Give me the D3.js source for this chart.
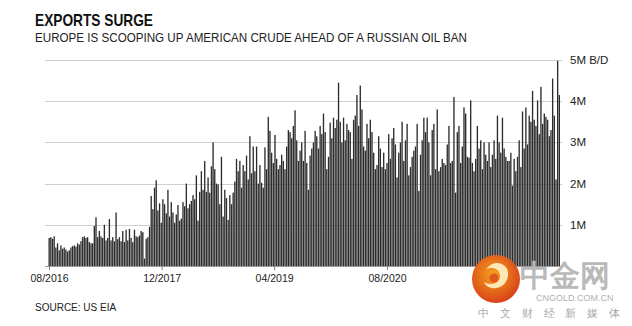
<!DOCTYPE html>
<html>
<head>
<meta charset="utf-8">
<script src="https://cdn.jsdelivr.net/npm/d3@7"></script>
<style>
  body { margin: 0; background: #fff; }
  svg { display: block; }
  text { font-family: "Liberation Sans", Arial, Helvetica, sans-serif; }
</style>
</head>
<body>
<svg id="chart" width="632" height="326"></svg>
<script>
// Weekly US crude oil exports, million barrels per day (EIA), starting week of 5 Aug 2016
const firstWeek = "2016-08-05";
const exportsMbd = [
  0.68, 0.70, 0.66, 0.72, 0.45, 0.55, 0.38, 0.50, 0.42, 0.45, 0.40, 0.35, 0.38, 0.45, 0.48, 0.50, 0.47, 0.55, 0.52, 0.60, 0.70, 0.72, 0.68,
  0.70, 0.58, 0.55, 0.55, 0.97, 1.18, 0.70, 0.85, 0.72, 0.68, 1.00, 0.62, 0.68, 1.14, 0.62, 0.70, 0.60, 1.30, 0.65, 0.70, 0.60, 0.85, 0.58, 0.88, 0.62, 0.90,
  0.68, 0.58, 0.88, 0.72, 0.70, 0.74, 0.85, 0.82, 0.18, 0.66, 0.70, 0.95, 1.70, 1.38, 1.90, 2.08, 1.35, 1.52, 1.05, 1.62, 1.50, 1.28, 1.85, 1.20, 1.55, 1.30,
  1.05, 1.25, 1.48, 1.10, 1.15, 1.55, 1.45, 2.00, 1.40, 1.50, 1.58, 1.72, 1.62, 2.20, 1.10, 1.80, 2.30, 1.85, 2.55, 1.80, 2.15, 1.78, 2.42, 3.00, 2.35, 2.00,
  1.98, 1.50, 2.65, 1.20, 1.85, 1.65, 1.12, 1.72, 1.50, 1.78, 2.05, 2.60, 2.30, 2.55, 1.90, 2.45, 2.30, 2.68, 2.10, 3.15, 2.25, 2.90, 2.30, 2.90, 2.00, 2.45,
  2.02, 1.90, 2.88, 2.35, 3.62, 3.28, 2.75, 2.50, 3.18, 2.60, 2.35, 2.45, 2.70, 2.55, 2.35, 2.90, 3.30, 3.25, 3.10, 3.40, 3.78, 3.05, 2.55, 2.80, 3.00,
  2.55, 3.28, 2.50, 1.85, 2.68, 2.85, 3.00, 3.28, 3.15, 2.85, 3.40, 3.20, 3.70, 3.25, 2.35, 2.65, 3.48, 3.10, 3.60, 3.35, 3.55, 4.45, 3.50, 3.00, 3.60,
  3.05, 3.45, 3.30, 3.25, 2.60, 3.55, 3.65, 4.15, 3.40, 4.38, 3.80, 2.90, 2.80, 3.45, 3.10, 3.55, 3.25, 2.75, 2.35, 2.45, 3.15, 2.85, 2.40, 2.75,
  2.35, 2.50, 3.20, 2.60, 3.10, 3.35, 2.95, 2.15, 2.75, 3.00, 3.50, 2.55, 3.05, 3.45, 2.20, 2.40, 2.65, 2.80, 2.90, 3.45, 1.82, 2.70, 3.05, 3.60, 3.25,
  3.60, 3.00, 2.20, 3.30, 3.45, 2.35, 3.80, 2.30, 2.40, 2.60, 2.50, 2.45, 2.95, 3.40, 2.50, 2.55, 4.10, 1.78, 3.25, 3.40, 2.50, 2.90, 3.85, 3.70, 2.65,
  2.63, 4.02, 2.50, 2.30, 2.60, 3.40, 2.85, 3.05, 2.35, 3.00, 2.70, 2.55, 3.00, 2.40, 2.70, 3.05, 2.60, 3.65, 3.00, 2.75, 3.60, 2.85, 2.65, 2.55,
  2.55, 2.75, 1.95, 2.60, 2.30, 2.65, 3.05, 2.40, 3.75, 2.85, 3.85, 2.95, 3.65, 3.50, 4.25, 3.55, 3.40, 4.02, 3.20, 4.35, 3.45, 3.70, 3.62, 3.55, 3.15, 3.30, 4.55, 3.65, 2.10, 4.98, 4.15
];

const xTickDates = ["2016-08-01", "2017-12-01", "2019-04-01", "2020-08-01"];
const xTickLabels = ["08/2016", "12/2017", "04/2019", "08/2020"];
const yTickValues = [1, 2, 3, 4, 5];
const yTickLabels = ["1M", "2M", "3M", "4M", "5M B/D"];

const titleText = "EXPORTS SURGE";
const subtitleText = "EUROPE IS SCOOPING UP AMERICAN CRUDE AHEAD OF A RUSSIAN OIL BAN";
const sourceText = "SOURCE: US EIA";

const parse = d3.utcParse("%Y-%m-%d");
const start = parse(firstWeek);
const weeks = exportsMbd.map((v, i) => ({ date: d3.utcDay.offset(start, i * 7), value: v }));

const svg = d3.select("#chart");
const plot = { left: 45, right: 562, top: 60, bottom: 266 };

// date axis positions
const x = d3.scaleUtc()
  .domain([parse("2016-08-01"), parse("2020-08-01")])
  .range([49, 387]);

const y = d3.scaleLinear().domain([0, 5]).range([plot.bottom, plot.top]);

// horizontal gridlines
svg.append("g")
  .selectAll("line")
  .data(yTickValues)
  .join("line")
  .attr("x1", plot.left)
  .attr("x2", plot.right)
  .attr("y1", d => Math.round(y(d)) + 0.5)
  .attr("y2", d => Math.round(y(d)) + 0.5)
  .attr("stroke", "#cfcfcf")
  .attr("stroke-width", 1);

// right-hand value labels
svg.append("g")
  .selectAll("text")
  .data(yTickValues)
  .join("text")
  .attr("x", 570)
  .attr("y", d => y(d) + 4)
  .attr("font-size", 11.5)
  .attr("fill", "#222")
  .text((d, i) => yTickLabels[i]);

// weekly bars
const xBar = d3.scaleBand()
  .domain(weeks.map((d, i) => i))
  .range([48.5, 560])
  .paddingInner(0.2);

svg.append("g")
  .selectAll("rect")
  .data(weeks)
  .join("rect")
  .attr("x", (d, i) => xBar(i))
  .attr("width", xBar.bandwidth())
  .attr("y", d => y(d.value))
  .attr("height", d => y(0) - y(d.value))
  .attr("fill", "#2c2c2c");

// baseline and date axis
svg.append("line")
  .attr("x1", plot.left).attr("x2", plot.right)
  .attr("y1", plot.bottom + 0.5).attr("y2", plot.bottom + 0.5)
  .attr("stroke", "#999");

const xAxis = d3.axisBottom(x)
  .tickValues(xTickDates.map(parse))
  .tickFormat((d, i) => xTickLabels[i])
  .tickSize(4)
  .tickPadding(5);

const gx = svg.append("g")
  .attr("transform", `translate(0,${plot.bottom})`)
  .call(xAxis);
gx.select(".domain").remove();
gx.selectAll(".tick line").attr("stroke", "#888");
gx.selectAll(".tick text")
  .attr("font-family", "Liberation Sans, Arial, sans-serif")
  .attr("font-size", 10.5)
  .attr("fill", "#222");

// headings
svg.append("text")
  .attr("x", 35).attr("y", 26)
  .attr("font-size", 17).attr("font-weight", "bold")
  .attr("fill", "#111")
  .attr("textLength", 118).attr("lengthAdjust", "spacingAndGlyphs")
  .text(titleText);

svg.append("text")
  .attr("x", 35).attr("y", 42)
  .attr("font-size", 12.5)
  .attr("fill", "#222")
  .attr("textLength", 432).attr("lengthAdjust", "spacingAndGlyphs")
  .text(subtitleText);

svg.append("text")
  .attr("x", 35).attr("y", 311)
  .attr("font-size", 10)
  .attr("fill", "#222")
  .text(sourceText);

// publisher mark, lower right
const mark = svg.append("g");
const grad = svg.append("defs").append("radialGradient")
  .attr("id", "logoGrad").attr("cx", "45%").attr("cy", "40%").attr("r", "60%");
grad.append("stop").attr("offset", "0%").attr("stop-color", "#f6a21b");
grad.append("stop").attr("offset", "100%").attr("stop-color", "#d9421a");
mark.append("circle").attr("cx", 496).attr("cy", 279).attr("r", 24).attr("fill", "url(#logoGrad)");
mark.append("path")
  .attr("d", "M486,270 C492,258 510,262 508,276 C506,290 488,292 484,282 C490,286 500,284 500,276 C500,268 490,266 486,270 Z")
  .attr("fill", "#fff3c8").attr("opacity", 0.9);
mark.append("circle").attr("cx", 494).attr("cy", 278).attr("r", 4.5).attr("fill", "#e2571c");
mark.append("text")
  .attr("x", 520).attr("y", 286)
  .attr("font-family", "Noto Sans CJK SC")
  .attr("font-size", 30).attr("font-weight", "bold")
  .attr("fill", "#b9b9b9")
  .text("中金网");
mark.append("text")
  .attr("x", 536).attr("y", 301)
  .attr("font-size", 9)
  .attr("fill", "#b0b0b0")
  .text("CNGOLD.COM.CN");
mark.append("text")
  .attr("x", 478).attr("y", 317)
  .attr("font-family", "Noto Sans CJK SC")
  .attr("font-size", 11)
  .attr("fill", "#a8a8a8")
  .attr("textLength", 142)
  .text("中文财经新媒体");
</script>
</body>
</html>
